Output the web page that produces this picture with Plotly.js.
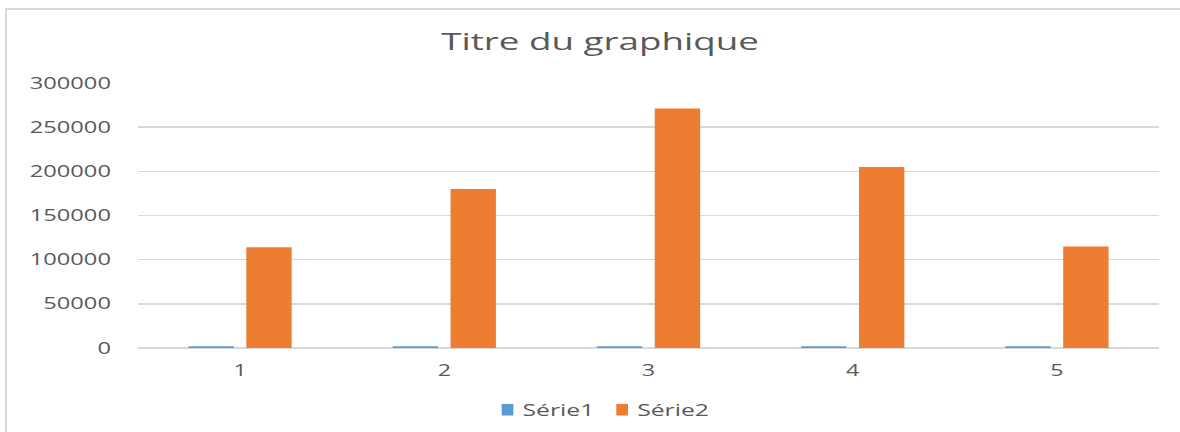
<!DOCTYPE html>
<html>
<head>
<meta charset="utf-8">
<script src="https://cdn.plot.ly/plotly-3.0.1.min.js"></script>
<style>
  html, body { margin: 0; padding: 0; background: #fff; overflow: hidden; }
  #frame { position: absolute; left: 5px; top: 8px; width: 1300px; height: 500px;
           border-left: 2px solid #d9d9d9; border-top: 2px solid #d9d9d9; box-sizing: border-box; }
  #chart { position: absolute; left: 0; top: 0; width: 787px; height: 432px;
           transform: scaleX(1.4994); transform-origin: 0 0; }
</style>
</head>
<body>
<div id="frame"></div>
<div id="chart"></div>
<script>
const categories = ['1', '2', '3', '4', '5'];
const serie1 = [2000, 2000, 2000, 2000, 2000];
const serie2 = [114000, 180000, 271000, 205000, 115000];
const yTicks = [0, 50000, 100000, 150000, 200000, 250000, 300000];
const yTickLabels = ['0', '50000', '100000', '150000', '200000', '250000', '300000'];
const chartTitle = 'Titre du graphique';
const seriesNames = ['Série1', 'Série2'];

const SX = 1.4994;
const font = 'Open Sans, Liberation Sans, sans-serif';
const txt = '#595959';

const data = [
  { type: 'bar', x: categories, y: serie1, name: seriesNames[0],
    marker: { color: '#5B9BD5' }, hoverinfo: 'none' },
  { type: 'bar', x: categories, y: serie2, name: seriesNames[1],
    marker: { color: '#ED7D31' }, hoverinfo: 'none' }
];

const layout = {
  width: 787, height: 432,
  margin: { l: 92, r: 14, t: 83, b: 84 },
  paper_bgcolor: 'rgba(0,0,0,0)', plot_bgcolor: 'rgba(0,0,0,0)',
  font: { family: font, color: txt, size: 15.5 },
  title: { text: chartTitle, font: { family: font, size: 24.5, color: txt },
           x: 0.5085, xref: 'container', xanchor: 'center',
           y: 1 - 41 / 432, yref: 'container', yanchor: 'middle', automargin: false },
  barmode: 'group', bargap: 0.433, bargroupgap: 0.216,
  xaxis: { type: 'category', showgrid: false, showline: false, ticks: '', automargin: false,
           tickfont: { family: font, size: 15.5, color: txt }, ticklabelstandoff: 12 },
  yaxis: { range: [0, 300000], tickvals: yTicks, ticktext: yTickLabels, automargin: false,
           showgrid: true, gridcolor: '#d9d9d9', gridwidth: 1.6,
           zeroline: true, zerolinecolor: '#d9d9d9', zerolinewidth: 1.6,
           showline: false, ticks: '', ticklabelstandoff: 17,
           tickfont: { family: font, size: 15.8, color: txt } },
  showlegend: true,
  legend: { orientation: 'h', x: 0.5127, xref: 'container', xanchor: 'center',
            y: 1 - 410 / 432, yref: 'container', yanchor: 'middle',
            font: { family: font, size: 16.5, color: txt }, itemwidth: 30,
            traceorder: 'normal' }
};

Plotly.newPlot('chart', data, layout, { staticPlot: true, displayModeBar: false }).then(function (gd) {
  // Tighten the legend to Excel-like spacing (small square, text close to it)
  const legend = gd.querySelector('.legend');
  if (!legend) return;
  legend.querySelectorAll('[clip-path]').forEach(function (el) { el.removeAttribute('clip-path'); });
  const lm = legend.transform.baseVal.consolidate();
  const lx = lm ? lm.matrix.e : 0;
  const items = legend.querySelectorAll('.traces');
  const targetCenter1 = 507.5 / SX;      // first square centre (page px, before stretch)
  const gapAfterText = 22 / SX;           // text end -> next square left
  const halfSq = 3.9;
  const textX = 30;
  let cursor = targetCenter1 - 20 - lx;
  items.forEach(function (it) {
    const m = it.transform.baseVal.consolidate();
    const ty = m ? m.matrix.f : 0;
    it.setAttribute('transform', 'translate(' + cursor + ',' + ty + ')');
    const t = it.querySelector('.legendtext');
    t.setAttribute('x', textX);
    it.querySelectorAll('.legendpoints path').forEach(function (p) {
      p.setAttribute('d', 'M' + halfSq + ',5.8H-' + halfSq + 'V-5.8H' + halfSq + 'Z');
    });
    const w = t.getComputedTextLength();
    cursor = cursor + textX + w + gapAfterText - (20 - halfSq);
  });
});
</script>
</body>
</html>
